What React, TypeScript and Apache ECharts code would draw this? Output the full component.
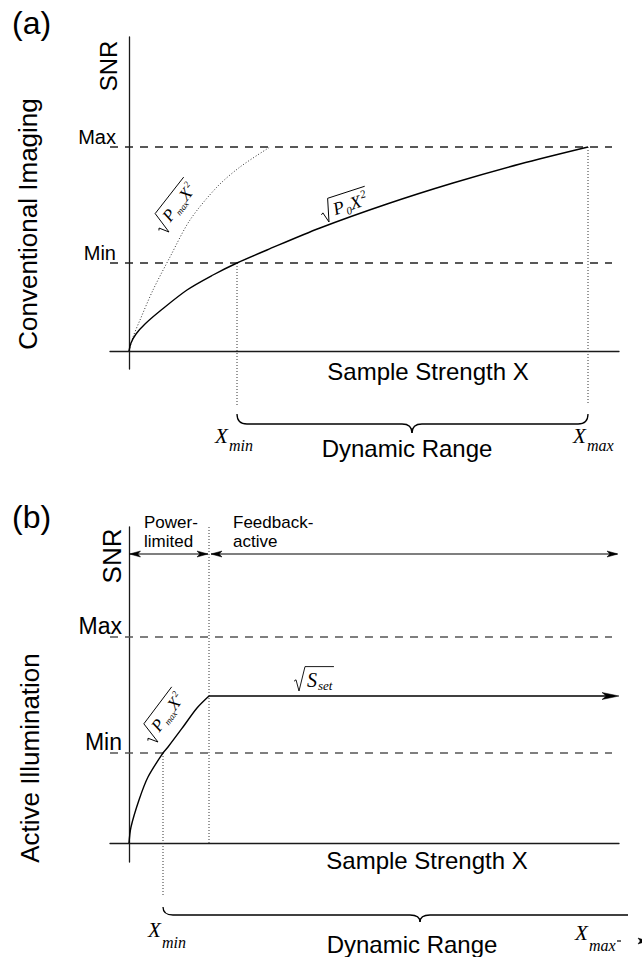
import React, { useEffect, useRef } from 'react';
import * as echarts from 'echarts';

const SANS = '"Liberation Sans", Arial, Helvetica, sans-serif';
const SERIF = '"Liberation Serif", "Times New Roman", serif';

// ---------- Panel (a): Conventional imaging (arbitrary units) ----------
const snrLevelsA = [88, 204]; // Min, Max
const xRangeA = [108, 459]; // X_min, X_max
const p0CurveA = [[0, 0], [2, 8], [7, 17], [16, 27], [31, 40], [58, 61], [84, 76], [108, 88], [138, 101], [191, 123], [258, 147], [324, 168], [391, 187], [459, 204]];
const pmaxCurveA = [[0, 0], [4, 14], [11, 31], [24, 61], [41, 94], [61, 131], [88, 164], [111, 184], [141, 204]];

// ---------- Panel (b): Active illumination ----------
const snrLevelsB = [90, 206]; // Min, Max
const xMinB = 34;
const xFeedbackB = 80;
const sSetB = 147;
const xArrowEndB = 490;
const pmaxCurveB = [[0, 0], [2, 16], [10, 43], [19, 66], [34, 90], [39, 96], [54, 116], [68, 135], [80, 147]];
const regimeArrowY = 289;

const yTickLabels = ['Min', 'Max'];
const dashExtent = [-19, 483];
const dropLevel = -54;

const W: Record<string, number> = { P: 0.611, X: 0.611, S: 0.5, '0': 0.5, '2': 0.5, m: 0.722, a: 0.5, x: 0.444, s: 0.389, e: 0.444, t: 0.278, i: 0.278, n: 0.5 };
const tw = (t: string, fs: number) => t.split('').reduce((s, c) => s + (W[c] ?? 0.5), 0) * fs;

type Part = { t: string; k: 'main' | 'sub' | 'sup' };
function sqrtLabel(x: number, y: number, rotDeg: number, parts: Part[], fs: number, fss: number) {
  const children: any[] = [];
  let cx = 8;
  const base = -5;
  for (const p of parts) {
    const size = p.k === 'main' ? fs : fss;
    const bl = p.k === 'main' ? base : p.k === 'sub' ? base + 3.5 : base - 0.45 * fs;
    children.push({
      type: 'text', x: cx, y: bl - 0.3 * size,
      style: { text: p.t, fontSize: size, fontFamily: SERIF, fontStyle: 'italic', fill: '#000', textAlign: 'left', textVerticalAlign: 'middle', align: 'left', verticalAlign: 'middle' },
    });
    cx += tw(p.t, size) + (p.k === 'main' ? 1 : 0.5);
  }
  const h = fs * 0.72 + 10;
  children.unshift({
    type: 'polyline',
    shape: { points: [[-5, -h * 0.4], [-3, -h * 0.46], [0, 0], [6, -h], [cx + 1, -h]] },
    style: { stroke: '#000', lineWidth: 0.9, fill: 'none' },
  });
  return { type: 'group', x, y, rotation: (rotDeg * Math.PI) / 180, children, z: 100, silent: true };
}

function txt(text: string, x: number, y: number, fs: number, opts: any = {}) {
  return {
    type: 'text', x, y, rotation: opts.rot ? (opts.rot * Math.PI) / 180 : 0, z: 100, silent: true,
    style: {
      text, fontSize: fs, fontFamily: opts.serif ? SERIF : SANS, fontStyle: opts.serif ? 'italic' : 'normal', fill: '#000',
      textAlign: opts.align || 'center', align: opts.align || 'center', textVerticalAlign: 'middle', verticalAlign: 'middle',
    },
  };
}

function arrowHead(tip: number[], dir: number, len: number, hw: number) {
  const [x, y] = tip;
  return {
    type: 'polygon', z: 100, silent: true,
    shape: { points: [[x, y], [x - dir * len, y - hw], [x - dir * len * 0.75, y], [x - dir * len, y + hw]] },
    style: { fill: '#000', stroke: '#000', lineWidth: 0.5 },
  };
}

function brace(p: (x: number, y: number) => number[], x1: number, x2: number, xt: number, yTop: number, yMid: number, yTip: number, curlRight: boolean) {
  const [X1, YT] = p(x1, yTop);
  const X2 = p(x2, yTop)[0];
  const [XT, YM] = p(xt, yMid);
  const YP = p(xt, yTip)[1];
  const r = 10;
  const st = { stroke: '#000', lineWidth: 1.3, fill: 'none' };
  const els: any[] = [
    { type: 'bezierCurve', shape: { x1: X1, y1: YT, cpx1: X1, cpy1: YM, x2: X1 + r, y2: YM }, style: st },
    { type: 'line', shape: { x1: X1 + r, y1: YM, x2: XT - r, y2: YM }, style: st },
    { type: 'bezierCurve', shape: { x1: XT - r, y1: YM, cpx1: XT, cpy1: YM, x2: XT, y2: YP }, style: st },
    { type: 'bezierCurve', shape: { x1: XT, y1: YP, cpx1: XT, cpy1: YM, x2: XT + r, y2: YM }, style: st },
  ];
  if (curlRight) {
    els.push({ type: 'line', shape: { x1: XT + r, y1: YM, x2: X2 - r, y2: YM }, style: st });
    els.push({ type: 'bezierCurve', shape: { x1: X2 - r, y1: YM, cpx1: X2, cpy1: YM, x2: X2, y2: YT }, style: st });
  } else {
    els.push({ type: 'line', shape: { x1: XT + r, y1: YM, x2: X2, y2: YM }, style: st });
  }
  return els.map((e) => ({ ...e, z: 100, silent: true }));
}

const axisLineStyle = { color: '#1a1a1a', width: 1.3 };

function xAxisCfg(gridIndex: number, min: number, max: number) {
  return {
    gridIndex, type: 'value', min, max,
    axisLine: { show: true, onZero: true, lineStyle: axisLineStyle },
    axisTick: { show: false }, axisLabel: { show: false }, splitLine: { show: false },
  };
}
function yAxisCfg(gridIndex: number, min: number, max: number, ticks: number[], fs: number, margin: number) {
  return {
    gridIndex, type: 'value', min, max,
    axisLine: { show: true, onZero: true, lineStyle: axisLineStyle },
    axisTick: { show: false }, splitLine: { show: false },
    axisLabel: {
      show: true, customValues: ticks, fontSize: fs, fontFamily: SANS, color: '#000', verticalAlign: 'bottom', margin,
      formatter: (v: number) => yTickLabels[ticks.indexOf(v)] ?? '',
    },
  };
}

function ln(gi: number, data: number[][], lineStyle: any, smooth: number | boolean = false) {
  return { type: 'line', xAxisIndex: gi, yAxisIndex: gi, data, symbol: 'none', showSymbol: false, clip: false, silent: true, smooth, lineStyle };
}

const solid = { color: '#000', width: 1.4, type: 'solid' };
const dashedA = { color: '#222', width: 1.3, type: [8, 7] };
const dashedB = { color: '#555', width: 1.3, type: [8, 7] };
const dotted = { color: '#333', width: 1, type: [1, 2] };

export default function App() {
  const ref = useRef<HTMLDivElement>(null);
  useEffect(() => {
    document.body.style.margin = '0';
    const chart = echarts.init(ref.current!, undefined, { renderer: 'svg' });
    chart.setOption({
      animation: false,
      backgroundColor: '#fff',
      grid: [
        { left: 110, top: 37, width: 509, height: 332 },
        { left: 110, top: 527, width: 509, height: 335 },
      ],
      xAxis: [xAxisCfg(0, -19, 490), xAxisCfg(1, -19, 490)],
      yAxis: [yAxisCfg(0, -18, 314, snrLevelsA, 20, -6), yAxisCfg(1, -19, 316, snrLevelsB, 23, -12)],
      series: [
        // panel (a)
        ln(0, [[dashExtent[0], snrLevelsA[0]], [dashExtent[1], snrLevelsA[0]]], dashedA),
        ln(0, [[dashExtent[0], snrLevelsA[1]], [dashExtent[1], snrLevelsA[1]]], dashedA),
        ln(0, [[xRangeA[0], snrLevelsA[0]], [xRangeA[0], dropLevel]], dotted),
        ln(0, [[xRangeA[1], snrLevelsA[1]], [xRangeA[1], dropLevel]], dotted),
        ln(0, pmaxCurveA, dotted, 0.3),
        ln(0, p0CurveA, solid, 0.3),
        // panel (b)
        ln(1, [[dashExtent[0], snrLevelsB[0]], [dashExtent[1], snrLevelsB[0]]], dashedB),
        ln(1, [[dashExtent[0], snrLevelsB[1]], [dashExtent[1], snrLevelsB[1]]], dashedB),
        ln(1, [[xFeedbackB, 316], [xFeedbackB, 0]], dotted),
        ln(1, [[xMinB, snrLevelsB[0]], [xMinB, dropLevel]], dotted),
        ln(1, pmaxCurveB, solid, 0.3),
        ln(1, [[xFeedbackB, sSetB], [xArrowEndB - 6, sSetB]], solid),
        ln(1, [[1, regimeArrowY], [xFeedbackB - 1, regimeArrowY]], { color: '#000', width: 1.2 }),
        ln(1, [[xFeedbackB + 2, regimeArrowY], [xArrowEndB - 2, regimeArrowY]], { color: '#000', width: 1.2 }),
        ln(1, [[488, -98], [515, -98]], { color: '#000', width: 1.2 }),
      ],
    });

    const pa = (x: number, y: number) => chart.convertToPixel({ gridIndex: 0 }, [x, y]) as number[];
    const pb = (x: number, y: number) => chart.convertToPixel({ gridIndex: 1 }, [x, y]) as number[];

    const graphic: any[] = [
      // panel (a) texts
      txt('(a)', 12, 23, 32, { align: 'left' }),
      txt('SNR', 108, 66, 24, { rot: 90 }),
      txt('Conventional Imaging', 28, 224, 26, { rot: 90 }),
      txt('Sample Strength X', 428, 371, 24),
      txt('Dynamic Range', 407, 448, 24),
      txt('X', 215, 436, 21, { serif: true, align: 'left' }),
      txt('min', 229, 445, 16, { serif: true, align: 'left' }),
      txt('X', 573, 436, 21, { serif: true, align: 'left' }),
      txt('max', 587, 445, 16, { serif: true, align: 'left' }),
      sqrtLabel(329, 222, 18, [{ t: 'P', k: 'main' }, { t: '0', k: 'sub' }, { t: 'X', k: 'main' }, { t: '2', k: 'sup' }], 18, 11),
      sqrtLabel(169, 232, 52, [{ t: 'P', k: 'main' }, { t: 'max', k: 'sub' }, { t: 'X', k: 'main' }, { t: '2', k: 'sup' }], 17, 9),
      ...brace(pa, xRangeA[0], xRangeA[1], 283, -63, -73, -82, true),
      // panel (b) texts
      txt('(b)', 12, 517, 32, { align: 'left' }),
      txt('SNR', 112, 556, 26, { rot: 90 }),
      txt('Active Illumination', 30, 758, 26, { rot: 90 }),
      txt('Power-', 144, 522, 17, { align: 'left' }),
      txt('limited', 144, 541, 17, { align: 'left' }),
      txt('Feedback-', 233, 522, 17, { align: 'left' }),
      txt('active', 233, 541, 17, { align: 'left' }),
      txt('Sample Strength X', 427, 860, 24),
      txt('Dynamic Range', 412, 944, 24),
      txt('X', 148, 930, 21, { serif: true, align: 'left' }),
      txt('min', 162, 942, 16, { serif: true, align: 'left' }),
      txt('X', 575, 933, 21, { serif: true, align: 'left' }),
      txt('max', 589, 945, 16, { serif: true, align: 'left' }),
      sqrtLabel(158, 742, 53, [{ t: 'P', k: 'main' }, { t: 'max', k: 'sub' }, { t: 'X', k: 'main' }, { t: '2', k: 'sup' }], 17, 9),
      sqrtLabel(299, 691, 0, [{ t: 'S', k: 'main' }, { t: 'set', k: 'sub' }], 20, 13),
      ...brace(pb, xMinB, 499, 291, -64, -72, -79, false),
      arrowHead(pb(xArrowEndB, sSetB), 1, 17, 3.5),
      arrowHead(pb(0.5, regimeArrowY), -1, 11, 3),
      arrowHead(pb(xFeedbackB - 1, regimeArrowY), 1, 11, 3),
      arrowHead(pb(xFeedbackB + 2, regimeArrowY), -1, 11, 3),
      arrowHead(pb(xArrowEndB - 1, regimeArrowY), 1, 11, 3),
      arrowHead(pb(518, -98), 1, 9, 3),
    ];
    chart.setOption({ graphic });
    return () => chart.dispose();
  }, []);
  return <div ref={ref} style={{ position: 'absolute', left: 0, top: 0, width: 642, height: 957 }} />;
}
